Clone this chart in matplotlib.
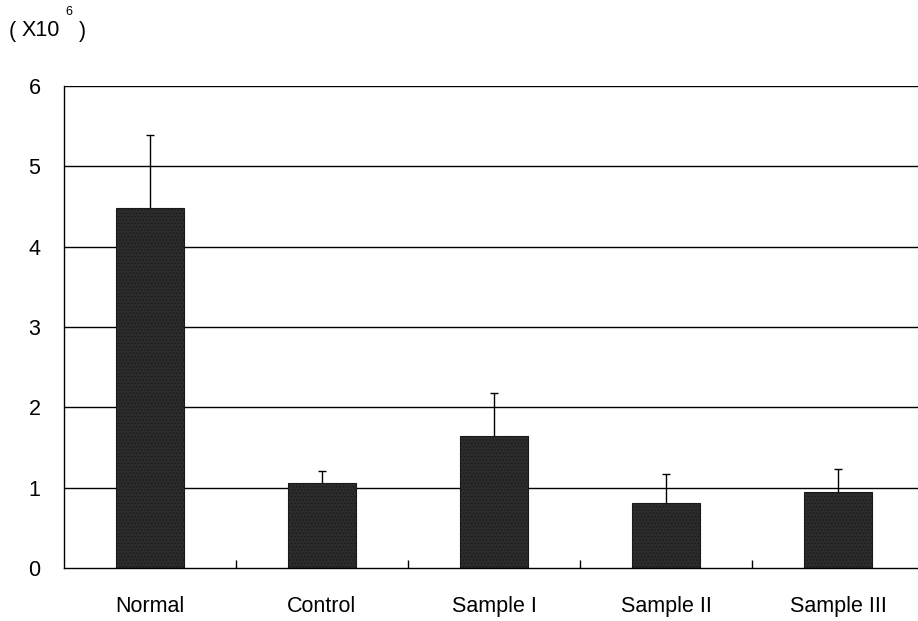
import matplotlib
matplotlib.use("Agg")
import matplotlib.pyplot as plt
import numpy as np

# values (x10^6)
categories = ["Normal", "Control", "Sample I", "Sample II", "Sample III"]
means = [4.48, 1.06, 1.64, 0.81, 0.94]
err = [0.91, 0.15, 0.54, 0.36, 0.29]

plt.rcParams['font.family'] = ['Liberation Sans', 'DejaVu Sans']
plt.rcParams['hatch.color'] = '#8a8a8a'
plt.rcParams['hatch.linewidth'] = 0.6

fig = plt.figure(figsize=(9.18, 6.21), dpi=100)
ax = fig.add_axes([64 / 918, 1 - 568 / 621, 860 / 918, (568 - 86) / 621])

x = np.arange(len(categories))

# gridlines
for y in range(1, 7):
    ax.axhline(y, color='black', linewidth=1.0, zorder=1)

# error bars behind the bars, so only the upper half shows
ax.errorbar(x, means, yerr=[err, err], fmt='none', ecolor='black',
            elinewidth=1.0, capsize=3, capthick=1.0, zorder=1.5)
ax.bar(x, means, width=0.4, color='#2c2c2c', edgecolor='#1a1a1a',
       linewidth=0.8, hatch='.....', zorder=2)

ax.set_xlim(-0.5, 4.5)
ax.set_ylim(0, 6)
ax.set_yticks(range(0, 7))
ax.tick_params(axis='y', length=0, pad=17, labelsize=15.5)
ax.set_xticks(x)
ax.set_xticklabels(categories)
ax.tick_params(axis='x', length=0, pad=20, labelsize=15.5)
ax.set_xticks(x[:-1] + 0.5, minor=True)
ax.tick_params(axis='x', which='minor', direction='in', length=6, width=1)

for s in ['top', 'right']:
    ax.spines[s].set_visible(False)
ax.spines['left'].set_linewidth(1.0)
ax.spines['bottom'].set_linewidth(1.0)

# multiplier label at the top left
fig.text(9 / 918, 1 - 31 / 621, "(", fontsize=15.5, va='center', ha='left')
fig.text(22 / 918, 1 - 31 / 621, "X10", fontsize=15.5, va='center', ha='left')
fig.text(65 / 918, 1 - 12 / 621, "6", fontsize=9, va='center', ha='left')
fig.text(79 / 918, 1 - 31 / 621, ")", fontsize=15.5, va='center', ha='left')

fig.savefig("out.png", dpi=100, facecolor='white')
